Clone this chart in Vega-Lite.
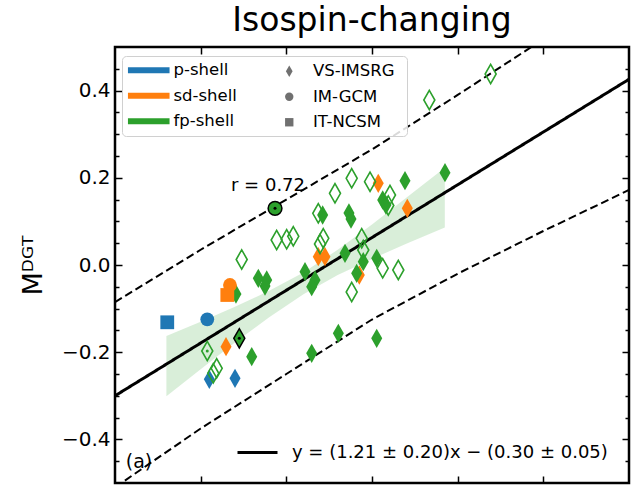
{
  "$schema": "https://vega.github.io/schema/vega-lite/v6.json",
  "width": 514,
  "height": 436,
  "autosize": {"type": "none"},
  "padding": {"left": 115, "top": 47, "right": 7, "bottom": 7},
  "background": "white",
  "config": {
    "font": "DejaVu Sans",
    "view": {"stroke": "black", "strokeWidth": 2.5},
    "axis": {"grid": false, "domain": false, "tickColor": "black", "tickWidth": 1.5, "labelColor": "black", "titleColor": "black", "labelFont": "DejaVu Sans", "titleFont": "DejaVu Sans"},
    "legend": {"labelFont": "DejaVu Sans", "labelColor": "black"}
  },
  "title": {"text": "Isospin-changing", "fontSize": 33, "fontWeight": "normal", "font": "DejaVu Sans", "color": "black", "offset": 8},
  "datasets": {
    "band": [
      {"x": 0.06, "lo": -0.301, "hi": -0.163},
      {"x": 0.10, "lo": -0.239, "hi": -0.130},
      {"x": 0.14, "lo": -0.178, "hi": -0.096},
      {"x": 0.18, "lo": -0.120, "hi": -0.059},
      {"x": 0.22, "lo": -0.067, "hi": -0.017},
      {"x": 0.26, "lo": -0.023, "hi": 0.035},
      {"x": 0.30, "lo": 0.014, "hi": 0.093},
      {"x": 0.34, "lo": 0.049, "hi": 0.154},
      {"x": 0.385, "lo": 0.086, "hi": 0.223}
    ],
    "fit": [
      {"x": 0.0, "y": -0.30, "curve": "y = (1.21 ± 0.20)x − (0.30 ± 0.05)"},
      {"x": 0.6, "y": 0.426, "curve": "y = (1.21 ± 0.20)x − (0.30 ± 0.05)"}
    ],
    "pred": [
      {"x": 0.0, "y": -0.085, "curve": "upper"},
      {"x": 0.1, "y": 0.035, "curve": "upper"},
      {"x": 0.2, "y": 0.150, "curve": "upper"},
      {"x": 0.3, "y": 0.265, "curve": "upper"},
      {"x": 0.4, "y": 0.390, "curve": "upper"},
      {"x": 0.49, "y": 0.505, "curve": "upper"},
      {"x": 0.0, "y": -0.510, "curve": "lower"},
      {"x": 0.1, "y": -0.375, "curve": "lower"},
      {"x": 0.2, "y": -0.250, "curve": "lower"},
      {"x": 0.3, "y": -0.125, "curve": "lower"},
      {"x": 0.4, "y": -0.020, "curve": "lower"},
      {"x": 0.5, "y": 0.078, "curve": "lower"},
      {"x": 0.6, "y": 0.172, "curve": "lower"}
    ],
    "pts": [
      {"x": 0.1479, "y": 0.0126, "shell": "fp-shell", "method": "VS-IMSRG", "kind": "open"},
      {"x": 0.1887, "y": 0.0573, "shell": "fp-shell", "method": "VS-IMSRG", "kind": "open"},
      {"x": 0.2004, "y": 0.0589, "shell": "fp-shell", "method": "VS-IMSRG", "kind": "open"},
      {"x": 0.2081, "y": 0.0658, "shell": "fp-shell", "method": "VS-IMSRG", "kind": "open"},
      {"x": 0.2393, "y": 0.0482, "shell": "fp-shell", "method": "VS-IMSRG", "kind": "open"},
      {"x": 0.2431, "y": 0.0612, "shell": "fp-shell", "method": "VS-IMSRG", "kind": "open"},
      {"x": 0.2373, "y": 0.1186, "shell": "fp-shell", "method": "VS-IMSRG", "kind": "open"},
      {"x": 0.2568, "y": 0.1644, "shell": "fp-shell", "method": "VS-IMSRG", "kind": "open"},
      {"x": 0.2763, "y": 0.1989, "shell": "fp-shell", "method": "VS-IMSRG", "kind": "open"},
      {"x": 0.2977, "y": 0.1911, "shell": "fp-shell", "method": "VS-IMSRG", "kind": "open"},
      {"x": 0.3210, "y": 0.1606, "shell": "fp-shell", "method": "VS-IMSRG", "kind": "open"},
      {"x": 0.3190, "y": 0.1365, "shell": "fp-shell", "method": "VS-IMSRG", "kind": "open"},
      {"x": 0.2880, "y": 0.0612, "shell": "fp-shell", "method": "VS-IMSRG", "kind": "open"},
      {"x": 0.2898, "y": 0.0344, "shell": "fp-shell", "method": "VS-IMSRG", "kind": "open"},
      {"x": 0.3125, "y": -0.0076, "shell": "fp-shell", "method": "VS-IMSRG", "kind": "open"},
      {"x": 0.3307, "y": -0.0115, "shell": "fp-shell", "method": "VS-IMSRG", "kind": "open"},
      {"x": 0.2763, "y": -0.0619, "shell": "fp-shell", "method": "VS-IMSRG", "kind": "open"},
      {"x": 0.1077, "y": -0.1972, "shell": "fp-shell", "method": "VS-IMSRG", "kind": "open", "hl": "dot"},
      {"x": 0.1187, "y": -0.2369, "shell": "fp-shell", "method": "VS-IMSRG", "kind": "open"},
      {"x": 0.1147, "y": -0.2484, "shell": "fp-shell", "method": "VS-IMSRG", "kind": "open"},
      {"x": 0.3669, "y": 0.3784, "shell": "fp-shell", "method": "VS-IMSRG", "kind": "open"},
      {"x": 0.4385, "y": 0.4381, "shell": "fp-shell", "method": "VS-IMSRG", "kind": "open"},
      {"x": 0.1101, "y": -0.2622, "shell": "p-shell", "method": "VS-IMSRG", "kind": "solid"},
      {"x": 0.1401, "y": -0.2599, "shell": "p-shell", "method": "VS-IMSRG", "kind": "solid"},
      {"x": 0.0610, "y": -0.1314, "shell": "p-shell", "method": "IT-NCSM", "kind": "solid"},
      {"x": 0.1077, "y": -0.1245, "shell": "p-shell", "method": "IM-GCM", "kind": "solid"},
      {"x": 0.1296, "y": -0.1874, "shell": "sd-shell", "method": "VS-IMSRG", "kind": "solid"},
      {"x": 0.2373, "y": 0.0190, "shell": "sd-shell", "method": "VS-IMSRG", "kind": "solid"},
      {"x": 0.2451, "y": 0.0190, "shell": "sd-shell", "method": "VS-IMSRG", "kind": "solid"},
      {"x": 0.2852, "y": -0.0229, "shell": "sd-shell", "method": "VS-IMSRG", "kind": "solid"},
      {"x": 0.3073, "y": 0.1874, "shell": "sd-shell", "method": "VS-IMSRG", "kind": "solid"},
      {"x": 0.3412, "y": 0.1300, "shell": "sd-shell", "method": "VS-IMSRG", "kind": "solid"},
      {"x": 0.1412, "y": -0.0665, "shell": "fp-shell", "method": "VS-IMSRG", "kind": "solid"},
      {"x": 0.1673, "y": -0.0305, "shell": "fp-shell", "method": "VS-IMSRG", "kind": "solid"},
      {"x": 0.1771, "y": -0.0344, "shell": "fp-shell", "method": "VS-IMSRG", "kind": "solid"},
      {"x": 0.1751, "y": -0.0482, "shell": "fp-shell", "method": "VS-IMSRG", "kind": "solid"},
      {"x": 0.2218, "y": -0.0154, "shell": "fp-shell", "method": "VS-IMSRG", "kind": "solid"},
      {"x": 0.2335, "y": -0.0344, "shell": "fp-shell", "method": "VS-IMSRG", "kind": "solid"},
      {"x": 0.2296, "y": -0.0498, "shell": "fp-shell", "method": "VS-IMSRG", "kind": "solid"},
      {"x": 0.2685, "y": 0.0268, "shell": "fp-shell", "method": "VS-IMSRG", "kind": "solid"},
      {"x": 0.2898, "y": 0.0076, "shell": "fp-shell", "method": "VS-IMSRG", "kind": "solid"},
      {"x": 0.2821, "y": -0.0190, "shell": "fp-shell", "method": "VS-IMSRG", "kind": "solid"},
      {"x": 0.3055, "y": 0.0154, "shell": "fp-shell", "method": "VS-IMSRG", "kind": "solid"},
      {"x": 0.2607, "y": -0.1567, "shell": "fp-shell", "method": "VS-IMSRG", "kind": "solid"},
      {"x": 0.2296, "y": -0.2025, "shell": "fp-shell", "method": "VS-IMSRG", "kind": "solid"},
      {"x": 0.1596, "y": -0.2103, "shell": "fp-shell", "method": "VS-IMSRG", "kind": "solid"},
      {"x": 0.3055, "y": -0.1681, "shell": "fp-shell", "method": "VS-IMSRG", "kind": "solid"},
      {"x": 0.2424, "y": 0.1147, "shell": "fp-shell", "method": "VS-IMSRG", "kind": "solid"},
      {"x": 0.2731, "y": 0.1193, "shell": "fp-shell", "method": "VS-IMSRG", "kind": "solid"},
      {"x": 0.2755, "y": 0.1055, "shell": "fp-shell", "method": "VS-IMSRG", "kind": "solid"},
      {"x": 0.3125, "y": 0.1491, "shell": "fp-shell", "method": "VS-IMSRG", "kind": "solid"},
      {"x": 0.3163, "y": 0.1376, "shell": "fp-shell", "method": "VS-IMSRG", "kind": "solid"},
      {"x": 0.3385, "y": 0.1933, "shell": "fp-shell", "method": "VS-IMSRG", "kind": "solid"},
      {"x": 0.3852, "y": 0.2117, "shell": "fp-shell", "method": "VS-IMSRG", "kind": "solid"},
      {"x": 0.1311, "y": -0.0688, "shell": "sd-shell", "method": "IT-NCSM", "kind": "solid"},
      {"x": 0.1342, "y": -0.0459, "shell": "sd-shell", "method": "IM-GCM", "kind": "solid"},
      {"x": 0.1868, "y": 0.1300, "shell": "fp-shell", "method": "IM-GCM", "kind": "solid", "hl": "edge"},
      {"x": 0.1451, "y": -0.1681, "shell": "fp-shell", "method": "VS-IMSRG", "kind": "solid", "hl": "edge"}
    ],
    "notes": [
      {"x": 0.1786, "y": 0.181, "label": "r = 0.72"},
      {"x": 0.028, "y": -0.452, "label": "(a)"}
    ]
  },
  "resolve": {"axis": {"x": "independent", "y": "independent"}},
  "layer": [
    {
      "data": {"name": "band"},
      "mark": {"type": "area", "color": "#2ca02c", "opacity": 0.18},
      "encoding": {
        "x": {"field": "x", "type": "quantitative", "scale": {"domain": [0, 0.6], "nice": false, "zero": false},
              "axis": {"orient": "bottom", "values": [0.1, 0.2, 0.3, 0.4, 0.5], "tickSize": -7, "labels": false, "title": null}},
        "y": {"field": "lo", "type": "quantitative", "scale": {"domain": [-0.5, 0.5], "nice": false, "zero": false},
              "axis": {"orient": "left", "values": [-0.4, -0.2, 0, 0.2, 0.4], "tickSize": -7, "format": ".1f", "labelFontSize": 20, "labelPadding": 12, "title": "Mᴰᴳᵀ", "titleFontSize": 27, "titleFontWeight": "normal", "titlePadding": 14}},
        "y2": {"field": "hi"}
      }
    },
    {
      "data": {"name": "fit"},
      "mark": {"type": "line", "color": "black", "strokeWidth": 3, "clip": true},
      "encoding": {
        "x": {"field": "x", "type": "quantitative",
              "axis": {"orient": "top", "values": [0.1, 0.2, 0.3, 0.4, 0.5], "tickSize": -7, "labels": false, "title": null}},
        "y": {"field": "y", "type": "quantitative",
              "axis": {"orient": "right", "values": [-0.4, -0.2, 0, 0.2, 0.4], "tickSize": -7, "labels": false, "title": null}},
        "strokeDash": {"field": "curve", "type": "nominal",
          "scale": {"domain": ["y = (1.21 ± 0.20)x − (0.30 ± 0.05)", "upper", "lower"], "range": [[1, 0], [8, 4], [8, 4]]},
          "legend": {"orient": "none", "legendX": 123, "legendY": 396, "title": null, "values": ["y = (1.21 ± 0.20)x − (0.30 ± 0.05)"],
            "symbolType": "M-2.5,0L2.5,0", "symbolSize": 256, "symbolStrokeWidth": 3, "symbolStrokeColor": "black", "symbolOffset": 10, "labelOffset": 25,
            "labelFontSize": 18, "labelLimit": 600, "padding": 0,
            "encode": {"symbols": {"update": {"stroke": {"value": "black"}, "strokeWidth": {"value": 3}, "opacity": {"value": 1}}}}}}
      }
    },
    {
      "data": {"name": "pred"},
      "mark": {"type": "line", "color": "black", "strokeWidth": 2, "clip": true},
      "encoding": {
        "x": {"field": "x", "type": "quantitative", "axis": null},
        "y": {"field": "y", "type": "quantitative",
              "axis": {"orient": "left", "values": [-0.45, -0.35, -0.3, -0.25, -0.15, -0.1, -0.05, 0.05, 0.1, 0.15, 0.25, 0.3, 0.35, 0.45], "tickSize": -4, "labels": false, "title": null}},
        "strokeDash": {"field": "curve", "type": "nominal"}
      }
    },
    {
      "data": {"name": "pts"},
      "transform": [{"filter": "datum.kind == 'solid' && datum.hl != 'edge'"}],
      "mark": {"type": "point", "filled": true, "size": 190, "opacity": 1},
      "encoding": {
        "x": {"field": "x", "type": "quantitative", "axis": null},
        "y": {"field": "y", "type": "quantitative",
              "axis": {"orient": "right", "values": [-0.45, -0.35, -0.3, -0.25, -0.15, -0.1, -0.05, 0.05, 0.1, 0.15, 0.25, 0.3, 0.35, 0.45], "tickSize": -4, "labels": false, "title": null}},
        "color": {"field": "shell", "type": "nominal",
          "scale": {"domain": ["p-shell", "sd-shell", "fp-shell"], "range": ["#1f77b4", "#ff7f0e", "#2ca02c"]},
          "legend": {"orient": "none", "legendX": 7, "legendY": 9, "title": null, "direction": "vertical",
            "symbolType": "M-2.6,-0.375L2.6,-0.375L2.6,0.375L-2.6,0.375ZM31.5,0", "symbolSize": 256, "symbolStrokeWidth": 0, "symbolOffset": 12.5, "labelOffset": 16.5,
            "symbolOpacity": 1,
            "labelFontSize": 16.5, "labelLimit": 600, "rowPadding": 8.5, "padding": 6,
            "strokeColor": "#d0d0d0", "fillColor": "rgba(255,255,255,0.85)", "cornerRadius": 4}},
        "shape": {"field": "method", "type": "nominal",
          "scale": {"domain": ["VS-IMSRG", "IM-GCM", "IT-NCSM"], "range": ["M0,-1.4L0.8,0L0,1.4L-0.8,0Z", "circle", "square"]},
          "legend": {"orient": "none", "legendX": 166, "legendY": 16, "title": null, "direction": "vertical",
            "symbolSize": 70, "symbolStrokeWidth": 0, "symbolOffset": 0, "labelOffset": 15.5,
            "symbolFillColor": "#707070", "symbolStrokeColor": "#707070",
            "labelFontSize": 16.5, "rowPadding": 8.5, "padding": 0}}
      }
    },
    {
      "data": {"name": "pts"},
      "transform": [{"filter": "datum.kind == 'open'"}],
      "mark": {"type": "point", "filled": false, "strokeWidth": 1.6, "size": 190, "opacity": 1},
      "encoding": {
        "x": {"field": "x", "type": "quantitative", "axis": null},
        "y": {"field": "y", "type": "quantitative", "axis": null},
        "color": {"field": "shell", "type": "nominal"},
        "shape": {"field": "method", "type": "nominal"}
      }
    },
    {
      "data": {"name": "pts"},
      "transform": [{"filter": "datum.hl == 'edge'"}],
      "mark": {"type": "point", "filled": true, "size": 190, "opacity": 1, "stroke": "black", "strokeWidth": 1.5},
      "encoding": {
        "x": {"field": "x", "type": "quantitative", "axis": null},
        "y": {"field": "y", "type": "quantitative", "axis": null},
        "color": {"field": "shell", "type": "nominal"},
        "shape": {"field": "method", "type": "nominal"}
      }
    },
    {
      "data": {"name": "pts"},
      "transform": [{"filter": "datum.hl == 'edge'"}],
      "mark": {"type": "point", "filled": true, "size": 9, "opacity": 1, "color": "black", "shape": "circle"},
      "encoding": {
        "x": {"field": "x", "type": "quantitative", "axis": null},
        "y": {"field": "y", "type": "quantitative", "axis": null}
      }
    },
    {
      "data": {"name": "pts"},
      "transform": [{"filter": "datum.hl == 'dot'"}],
      "mark": {"type": "point", "filled": true, "size": 9, "opacity": 1, "shape": "circle"},
      "encoding": {
        "x": {"field": "x", "type": "quantitative", "axis": null},
        "y": {"field": "y", "type": "quantitative", "axis": null},
        "color": {"field": "shell", "type": "nominal"}
      }
    },
    {
      "data": {"name": "notes"},
      "transform": [{"filter": "datum.label == 'r = 0.72'"}],
      "mark": {"type": "text", "fontSize": 18, "font": "DejaVu Sans", "color": "black", "align": "center", "baseline": "middle"},
      "encoding": {
        "x": {"field": "x", "type": "quantitative", "axis": null},
        "y": {"field": "y", "type": "quantitative", "axis": null},
        "text": {"field": "label"}
      }
    },
    {
      "data": {"name": "notes"},
      "transform": [{"filter": "datum.label == '(a)'"}],
      "mark": {"type": "text", "fontSize": 19, "font": "DejaVu Sans", "color": "black", "align": "center", "baseline": "middle"},
      "encoding": {
        "x": {"field": "x", "type": "quantitative", "axis": null},
        "y": {"field": "y", "type": "quantitative", "axis": null},
        "text": {"field": "label"}
      }
    }
  ]
}
